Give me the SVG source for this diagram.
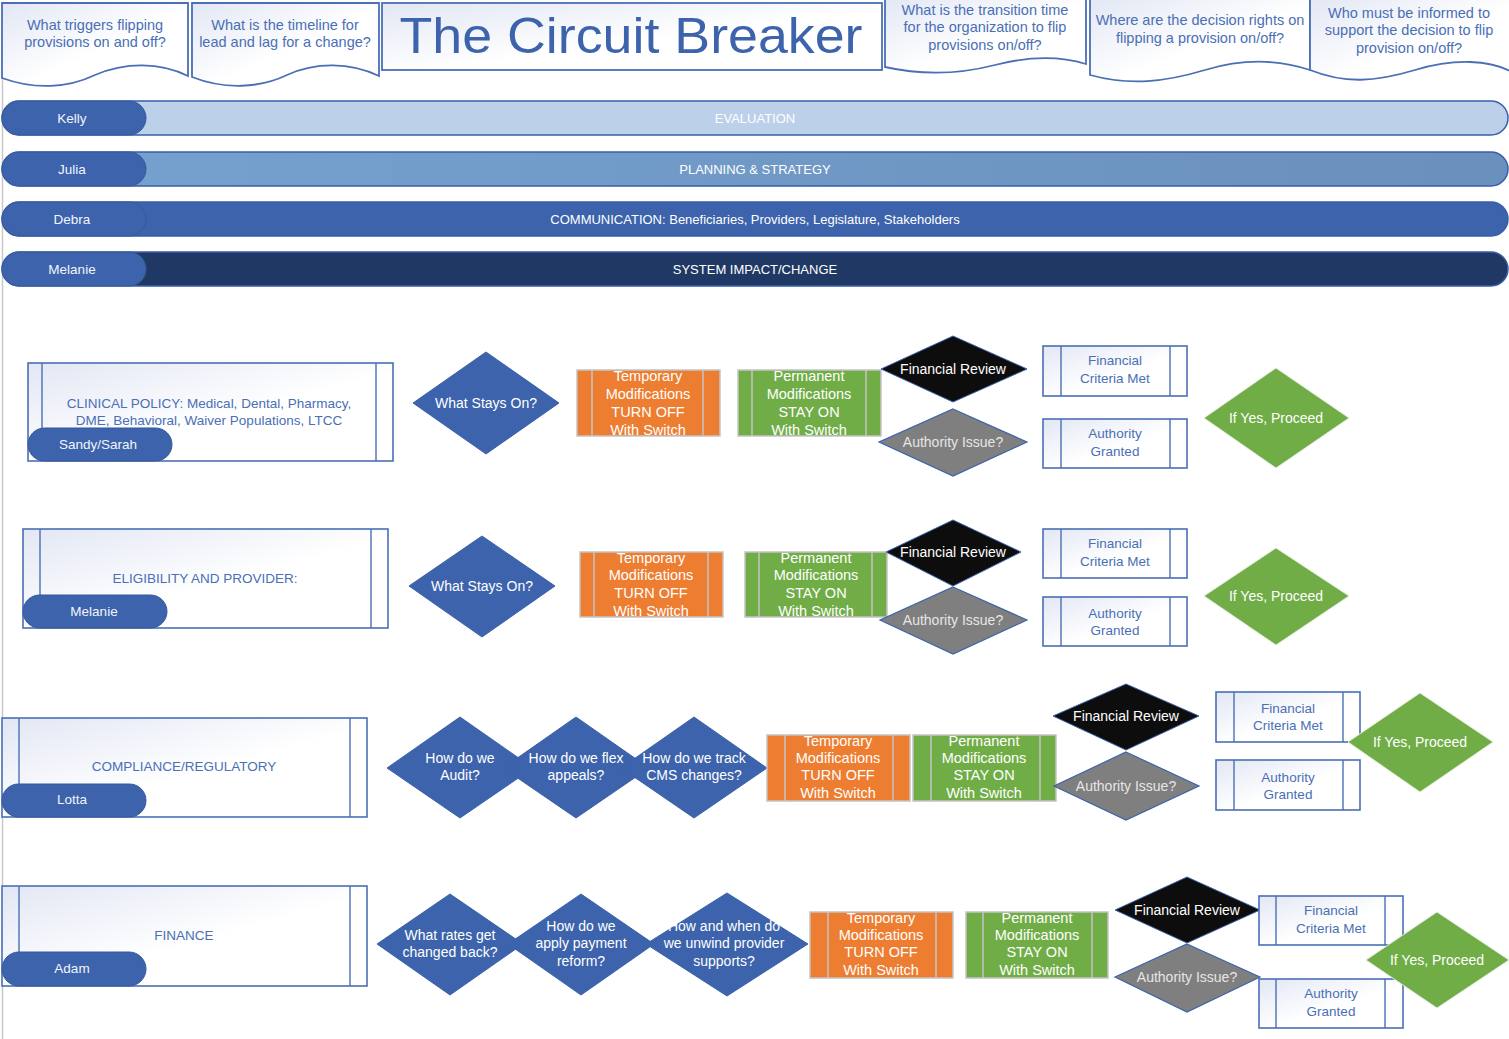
<svg xmlns="http://www.w3.org/2000/svg" width="1509" height="1039" viewBox="0 0 1509 1039">
<defs>
<linearGradient id="lav" x1="0" y1="0" x2="1" y2="1"><stop offset="0" stop-color="#e2e7f4"/><stop offset="0.55" stop-color="#ffffff"/><stop offset="1" stop-color="#ffffff"/></linearGradient>
<linearGradient id="julia" x1="0" y1="0" x2="1" y2="0"><stop offset="0" stop-color="#76a2d0"/><stop offset="1" stop-color="#6a90bd"/></linearGradient>
<style>
text{font-family:"Liberation Sans",Arial,sans-serif;text-anchor:middle;dominant-baseline:central}
.doc{fill:url(#lav);stroke:#4a6fb5;stroke-width:1.8}
.dt{fill:#4a6fb5;font-size:14.5px}
.bar{stroke:#3a5ea8;stroke-width:1.5}
.pill{fill:#3c63ab;stroke:#36599b;stroke-width:1}
.pt{fill:#f2f5fb;font-size:13.5px}
.bt{fill:#ffffff;font-size:13px}
.proc{fill:url(#lav);stroke:#4a6fb5;stroke-width:1.6}
.pl{stroke:#4a6fb5;stroke-width:1.4;fill:none}
.ptx{fill:#4a6fb5;font-size:13.5px}
.bd{fill:#3c63ab;stroke:#3c63ab;stroke-width:1}
.wt{fill:#ffffff;font-size:14px}
.or{fill:#ed7d31;stroke:#c4c4c4;stroke-width:1.5}
.gr{fill:#70ad47;stroke:#c4c4c4;stroke-width:1.5}
.gl{stroke:#c4c4c4;stroke-width:1.5;fill:none}
.mt{fill:#ffffff;font-size:14.5px}
.blk{fill:#0d0d0d;stroke:#3c63ab;stroke-width:1}
.gry{fill:#7f7f7f;stroke:#3c63ab;stroke-width:1.2}
.gyt{fill:#e6e6e6;font-size:14px}
.gd{fill:#70ad47;stroke:#e2ecd9;stroke-width:1}
</style>
</defs>
<rect width="1509" height="1039" fill="#ffffff"/>
<line x1="2.5" y1="78" x2="2.5" y2="1039" stroke="#c8c8c8" stroke-width="1.5"/>

<g id="header-doc1">
<path class="doc" d="M2,3 H188 V76 C160,62 125,62 95,75 C68,88 35,90 2,78 Z"/>
<text class="dt" x="95"><tspan x="95" y="25">What triggers flipping</tspan><tspan x="95" y="42">provisions on and off?</tspan></text>
</g>
<g id="header-doc2">
<path class="doc" d="M192,3 H379 V76 C350,62 315,62 287,75 C260,88 225,90 192,77 Z"/>
<text class="dt"><tspan x="285" y="25">What is the timeline for</tspan><tspan x="285" y="42">lead and lag for a change?</tspan></text>
</g>
<g id="title">
<rect x="382" y="3" width="500" height="67" fill="url(#lav)" stroke="#4a6fb5" stroke-width="1.8"/>
<text x="631" y="36" fill="#3c63ab" font-size="50" textLength="463" lengthAdjust="spacingAndGlyphs">The Circuit Breaker</text>
</g>
<g id="header-doc3">
<path class="doc" d="M885,-2 H1086 V64 C1060,56 1030,56 995,65 C960,74 925,76 885,67 Z"/>
<text class="dt"><tspan x="985" y="10">What is the transition time</tspan><tspan x="985" y="27">for the organization to flip</tspan><tspan x="985" y="45">provisions on/off?</tspan></text>
</g>
<g id="header-doc4">
<path class="doc" d="M1090,-2 H1310 V70 C1280,60 1245,58 1205,70 C1165,82 1130,86 1090,75 Z"/>
<text class="dt"><tspan x="1200" y="20">Where are the decision rights on</tspan><tspan x="1200" y="38">flipping a provision on/off?</tspan></text>
</g>
<g id="header-doc5">
<path class="doc" d="M1310,-2 H1512 V72 C1490,60 1455,58 1415,70 C1375,82 1345,84 1310,70 Z"/>
<text class="dt"><tspan x="1409" y="13">Who must be informed to</tspan><tspan x="1409" y="30">support the decision to flip</tspan><tspan x="1409" y="48">provision on/off?</tspan></text>
</g>

<g id="lane-kelly">
<rect class="bar" x="2" y="101" width="1506" height="34" rx="17" fill="#bdd0e9"/>
<rect class="pill" x="2" y="101" width="144" height="34" rx="17"/>
<text class="pt" x="72" y="118">Kelly</text>
<text class="bt" x="755" y="118" fill="#eef3fa">EVALUATION</text>
</g>
<g id="lane-julia">
<rect class="bar" x="2" y="152" width="1506" height="34" rx="17" fill="url(#julia)" stroke="#5b7fae"/>
<rect class="pill" x="2" y="152" width="144" height="34" rx="17"/>
<text class="pt" x="72" y="169">Julia</text>
<text class="bt" x="755" y="169">PLANNING &amp; STRATEGY</text>
</g>
<g id="lane-debra">
<rect class="bar" x="2" y="202" width="1506" height="34" rx="17" fill="#3c63ab"/>
<rect class="pill" x="2" y="202" width="144" height="34" rx="17" stroke="#34589a"/>
<text class="pt" x="72" y="219">Debra</text>
<text class="bt" x="755" y="219">COMMUNICATION: Beneficiaries, Providers, Legislature, Stakeholders</text>
</g>
<g id="lane-melanie">
<rect class="bar" x="2" y="252" width="1506" height="34" rx="17" fill="#203864"/>
<rect class="pill" x="2" y="252" width="144" height="34" rx="17"/>
<text class="pt" x="72" y="269">Melanie</text>
<text class="bt" x="755" y="269">SYSTEM IMPACT/CHANGE</text>
</g>

<g id="connectors"></g>

<!-- Row 1 -->
<g id="clinical-policy">
<rect class="proc" x="28" y="363" width="365" height="98"/>
<line class="pl" x1="42" y1="363" x2="42" y2="461"/><line class="pl" x1="376" y1="363" x2="376" y2="461"/>
<text class="ptx"><tspan x="209" y="403">CLINICAL POLICY: Medical, Dental, Pharmacy,</tspan><tspan x="209" y="420">DME, Behavioral, Waiver Populations, LTCC</tspan></text>
<rect class="pill" x="28" y="428" width="144" height="33" rx="16.5"/>
<text class="pt" x="98" y="444">Sandy/Sarah</text>
</g>
<g id="r1-stays">
<polygon class="bd" points="486,352 559,403 486,454 413,403"/>
<text class="wt" x="486" y="403">What Stays On?</text>
</g>
<g id="r1-temp">
<rect class="or" x="577" y="370" width="143" height="66"/>
<line class="gl" x1="592" y1="370" x2="592" y2="436"/><line class="gl" x1="703" y1="370" x2="703" y2="436"/>
<text class="mt"><tspan x="648" y="376">Temporary</tspan><tspan x="648" y="394">Modifications</tspan><tspan x="648" y="412">TURN OFF</tspan><tspan x="648" y="430">With Switch</tspan></text>
</g>
<g id="r1-perm">
<rect class="gr" x="738" y="370" width="143" height="66"/>
<line class="gl" x1="752" y1="370" x2="752" y2="436"/><line class="gl" x1="866" y1="370" x2="866" y2="436"/>
<text class="mt"><tspan x="809" y="376">Permanent</tspan><tspan x="809" y="394">Modifications</tspan><tspan x="809" y="412">STAY ON</tspan><tspan x="809" y="430">With Switch</tspan></text>
</g>
<g id="r1-finrev">
<polygon class="blk" points="953,336 1027,369 953,402 881,369"/>
<text class="wt" x="953" y="369">Financial Review</text>
</g>
<g id="r1-auth">
<polygon class="gry" points="953,409 1027,442 953,476 879,442"/>
<text class="gyt" x="953" y="442">Authority Issue?</text>
</g>
<g id="r1-fcm">
<rect class="proc" x="1043" y="346" width="144" height="50"/>
<line class="pl" x1="1061" y1="346" x2="1061" y2="396"/><line class="pl" x1="1170" y1="346" x2="1170" y2="396"/>
<text class="ptx"><tspan x="1115" y="360">Financial</tspan><tspan x="1115" y="378">Criteria Met</tspan></text>
</g>
<g id="r1-ag">
<rect class="proc" x="1043" y="419" width="144" height="49"/>
<line class="pl" x1="1061" y1="419" x2="1061" y2="468"/><line class="pl" x1="1170" y1="419" x2="1170" y2="468"/>
<text class="ptx"><tspan x="1115" y="433">Authority</tspan><tspan x="1115" y="451">Granted</tspan></text>
</g>
<g id="r1-proceed">
<polygon class="gd" points="1276,368 1349,418 1276,468 1204,418"/>
<text class="wt" x="1276" y="418">If Yes, Proceed</text>
</g>

<!-- Row 2 -->
<g id="eligibility">
<rect class="proc" x="23" y="529" width="365" height="99"/>
<line class="pl" x1="40" y1="529" x2="40" y2="628"/><line class="pl" x1="371" y1="529" x2="371" y2="628"/>
<text class="ptx" x="205" y="578">ELIGIBILITY AND PROVIDER:</text>
<rect class="pill" x="23" y="595" width="144" height="33" rx="16.5"/>
<text class="pt" x="94" y="611">Melanie</text>
</g>
<g id="r2-stays">
<polygon class="bd" points="482,536 555,586 482,637 409,586"/>
<text class="wt" x="482" y="586">What Stays On?</text>
</g>
<g id="r2-temp">
<rect class="or" x="580" y="552" width="143" height="65"/>
<line class="gl" x1="594" y1="552" x2="594" y2="617"/><line class="gl" x1="708" y1="552" x2="708" y2="617"/>
<text class="mt"><tspan x="651" y="558">Temporary</tspan><tspan x="651" y="575">Modifications</tspan><tspan x="651" y="593">TURN OFF</tspan><tspan x="651" y="611">With Switch</tspan></text>
</g>
<g id="r2-perm">
<rect class="gr" x="745" y="552" width="142" height="65"/>
<line class="gl" x1="759" y1="552" x2="759" y2="617"/><line class="gl" x1="872" y1="552" x2="872" y2="617"/>
<text class="mt"><tspan x="816" y="558">Permanent</tspan><tspan x="816" y="575">Modifications</tspan><tspan x="816" y="593">STAY ON</tspan><tspan x="816" y="611">With Switch</tspan></text>
</g>
<g id="r2-finrev">
<polygon class="blk" points="953,520 1021,552 953,586 886,552"/>
<text class="wt" x="953" y="552">Financial Review</text>
</g>
<g id="r2-auth">
<polygon class="gry" points="953,587 1027,620 953,654 880,620"/>
<text class="gyt" x="953" y="620">Authority Issue?</text>
</g>
<g id="r2-fcm">
<rect class="proc" x="1043" y="529" width="144" height="49"/>
<line class="pl" x1="1061" y1="529" x2="1061" y2="578"/><line class="pl" x1="1170" y1="529" x2="1170" y2="578"/>
<text class="ptx"><tspan x="1115" y="543">Financial</tspan><tspan x="1115" y="561">Criteria Met</tspan></text>
</g>
<g id="r2-ag">
<rect class="proc" x="1043" y="597" width="144" height="49"/>
<line class="pl" x1="1061" y1="597" x2="1061" y2="646"/><line class="pl" x1="1170" y1="597" x2="1170" y2="646"/>
<text class="ptx"><tspan x="1115" y="613">Authority</tspan><tspan x="1115" y="630">Granted</tspan></text>
</g>
<g id="r2-proceed">
<polygon class="gd" points="1276,548 1349,596 1276,645 1204,596"/>
<text class="wt" x="1276" y="596">If Yes, Proceed</text>
</g>

<!-- Row 3 -->
<g id="compliance">
<rect class="proc" x="2" y="718" width="365" height="99"/>
<line class="pl" x1="19" y1="718" x2="19" y2="817"/><line class="pl" x1="350" y1="718" x2="350" y2="817"/>
<text class="ptx" x="184" y="766">COMPLIANCE/REGULATORY</text>
<rect class="pill" x="2" y="784" width="144" height="33" rx="16.5"/>
<text class="pt" x="72" y="799">Lotta</text>
</g>
<g id="r3-audit">
<polygon class="bd" points="460,717 533,768 460,818 387,768"/>
<text class="wt"><tspan x="460" y="758">How do we</tspan><tspan x="460" y="775">Audit?</tspan></text>
</g>
<g id="r3-appeals">
<polygon class="bd" points="576,717 649,768 576,818 503,768"/>
<text class="wt"><tspan x="576" y="758">How do we flex</tspan><tspan x="576" y="775">appeals?</tspan></text>
</g>
<g id="r3-cms">
<polygon class="bd" points="694,717 767,768 694,818 621,768"/>
<text class="wt"><tspan x="694" y="758">How do we track</tspan><tspan x="694" y="775">CMS changes?</tspan></text>
</g>
<g id="r3-temp">
<rect class="or" x="767" y="735" width="143" height="66"/>
<line class="gl" x1="785" y1="735" x2="785" y2="801"/><line class="gl" x1="893" y1="735" x2="893" y2="801"/>
<text class="mt"><tspan x="838" y="741">Temporary</tspan><tspan x="838" y="758">Modifications</tspan><tspan x="838" y="775">TURN OFF</tspan><tspan x="838" y="793">With Switch</tspan></text>
</g>
<g id="r3-perm">
<rect class="gr" x="913" y="735" width="143" height="66"/>
<line class="gl" x1="931" y1="735" x2="931" y2="801"/><line class="gl" x1="1040" y1="735" x2="1040" y2="801"/>
<text class="mt"><tspan x="984" y="741">Permanent</tspan><tspan x="984" y="758">Modifications</tspan><tspan x="984" y="775">STAY ON</tspan><tspan x="984" y="793">With Switch</tspan></text>
</g>
<g id="r3-finrev">
<polygon class="blk" points="1126,684 1199,716 1126,750 1053,716"/>
<text class="wt" x="1126" y="716">Financial Review</text>
</g>
<g id="r3-auth">
<polygon class="gry" points="1126,752 1199,786 1126,820 1054,786"/>
<text class="gyt" x="1126" y="786">Authority Issue?</text>
</g>
<g id="r3-fcm">
<rect class="proc" x="1216" y="692" width="144" height="50"/>
<line class="pl" x1="1234" y1="692" x2="1234" y2="742"/><line class="pl" x1="1343" y1="692" x2="1343" y2="742"/>
<text class="ptx"><tspan x="1288" y="708">Financial</tspan><tspan x="1288" y="725">Criteria Met</tspan></text>
</g>
<g id="r3-ag">
<rect class="proc" x="1216" y="760" width="144" height="50"/>
<line class="pl" x1="1234" y1="760" x2="1234" y2="810"/><line class="pl" x1="1343" y1="760" x2="1343" y2="810"/>
<text class="ptx"><tspan x="1288" y="777">Authority</tspan><tspan x="1288" y="794">Granted</tspan></text>
</g>
<g id="r3-proceed">
<polygon class="gd" points="1420,693 1493,742 1420,792 1348,742"/>
<text class="wt" x="1420" y="742">If Yes, Proceed</text>
</g>

<!-- Row 4 -->
<g id="finance">
<rect class="proc" x="2" y="886" width="365" height="100"/>
<line class="pl" x1="19" y1="886" x2="19" y2="986"/><line class="pl" x1="350" y1="886" x2="350" y2="986"/>
<text class="ptx" x="184" y="935">FINANCE</text>
<rect class="pill" x="2" y="952" width="144" height="34" rx="17"/>
<text class="pt" x="72" y="968">Adam</text>
</g>
<g id="r4-rates">
<polygon class="bd" points="450,894 523,944 450,995 377,944"/>
<text class="wt"><tspan x="450" y="935">What rates get</tspan><tspan x="450" y="952">changed back?</tspan></text>
</g>
<g id="r4-reform">
<polygon class="bd" points="581,894 654,944 581,995 508,944"/>
<text class="wt"><tspan x="581" y="926">How do we</tspan><tspan x="581" y="943">apply payment</tspan><tspan x="581" y="961">reform?</tspan></text>
</g>
<g id="r4-unwind">
<polygon class="bd" points="727,893 808,944 727,996 646,944"/>
<text class="wt"><tspan x="724" y="926">How and when do</tspan><tspan x="724" y="943">we unwind provider</tspan><tspan x="724" y="961">supports?</tspan></text>
</g>
<g id="r4-temp">
<rect class="or" x="810" y="912" width="143" height="66"/>
<line class="gl" x1="828" y1="912" x2="828" y2="978"/><line class="gl" x1="936" y1="912" x2="936" y2="978"/>
<text class="mt"><tspan x="881" y="918">Temporary</tspan><tspan x="881" y="935">Modifications</tspan><tspan x="881" y="952">TURN OFF</tspan><tspan x="881" y="970">With Switch</tspan></text>
</g>
<g id="r4-perm">
<rect class="gr" x="966" y="912" width="142" height="66"/>
<line class="gl" x1="983" y1="912" x2="983" y2="978"/><line class="gl" x1="1092" y1="912" x2="1092" y2="978"/>
<text class="mt"><tspan x="1037" y="918">Permanent</tspan><tspan x="1037" y="935">Modifications</tspan><tspan x="1037" y="952">STAY ON</tspan><tspan x="1037" y="970">With Switch</tspan></text>
</g>
<g id="r4-finrev">
<polygon class="blk" points="1187,877 1260,910 1187,943 1115,910"/>
<text class="wt" x="1187" y="910">Financial Review</text>
</g>
<g id="r4-auth">
<polygon class="gry" points="1187,944 1260,977 1187,1012 1115,977"/>
<text class="gyt" x="1187" y="977">Authority Issue?</text>
</g>
<g id="r4-fcm">
<rect class="proc" x="1259" y="896" width="144" height="49"/>
<line class="pl" x1="1276" y1="896" x2="1276" y2="945"/><line class="pl" x1="1385" y1="896" x2="1385" y2="945"/>
<text class="ptx"><tspan x="1331" y="910">Financial</tspan><tspan x="1331" y="928">Criteria Met</tspan></text>
</g>
<g id="r4-ag">
<rect class="proc" x="1259" y="979" width="144" height="49"/>
<line class="pl" x1="1276" y1="979" x2="1276" y2="1028"/><line class="pl" x1="1385" y1="979" x2="1385" y2="1028"/>
<text class="ptx"><tspan x="1331" y="993">Authority</tspan><tspan x="1331" y="1011">Granted</tspan></text>
</g>
<g id="r4-proceed">
<polygon class="gd" points="1437,912 1509,960 1437,1008 1366,960"/>
<text class="wt" x="1437" y="960">If Yes, Proceed</text>
</g>
</svg>
